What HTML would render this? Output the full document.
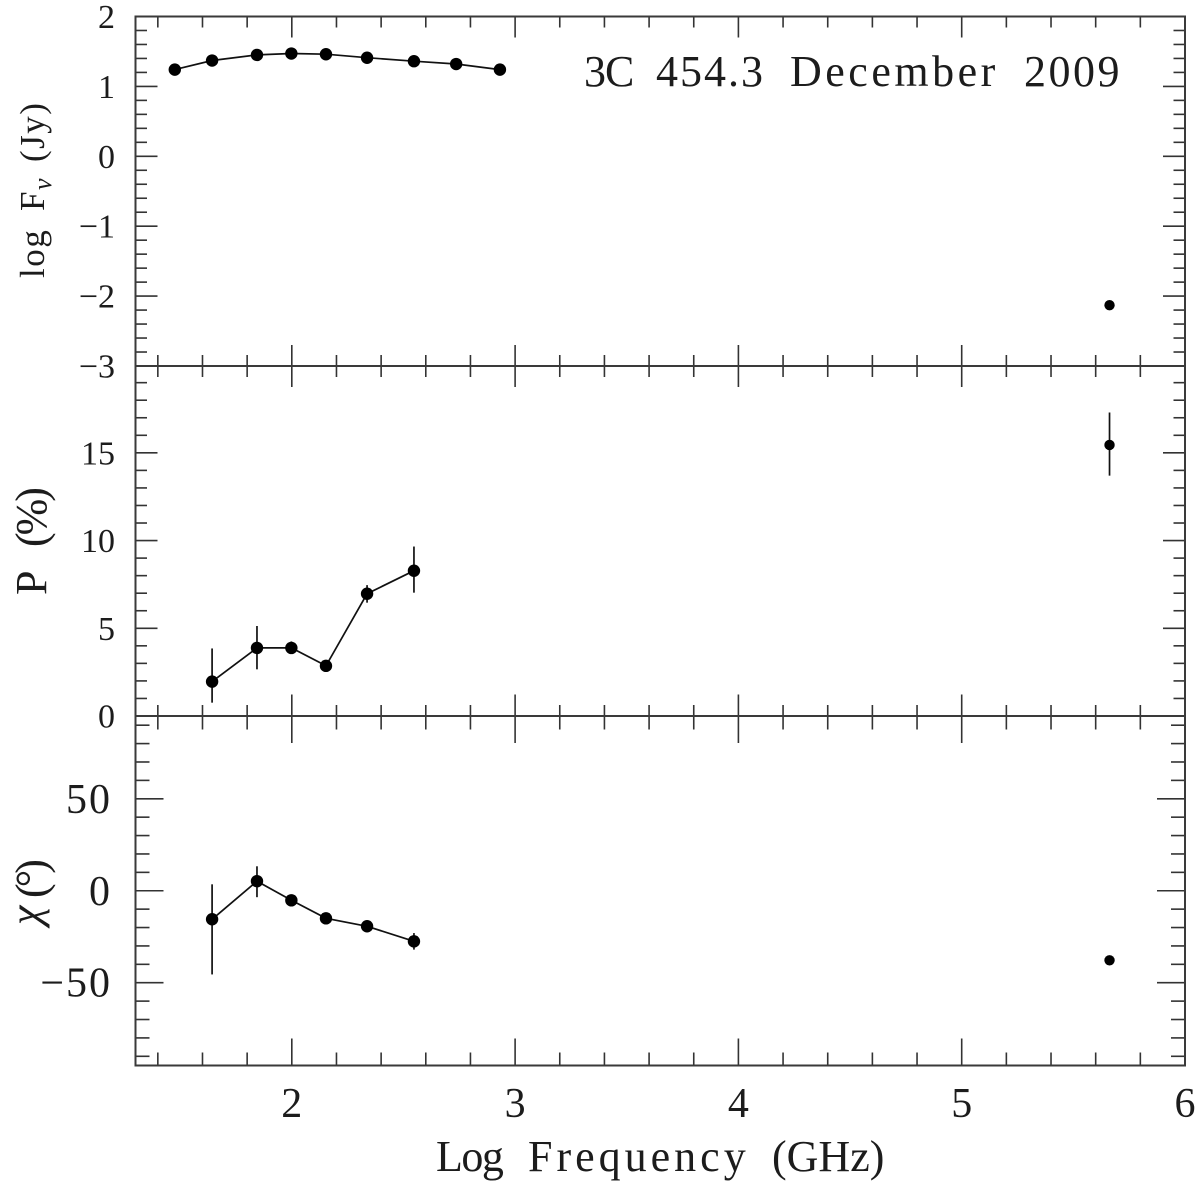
<!DOCTYPE html>
<html lang="en">
<head>
<meta charset="utf-8">
<title>3C 454.3 December 2009</title>
<style>
html,body{margin:0;padding:0;background:#fff;}
svg{display:block;}
text{font-family:"Liberation Serif","DejaVu Serif",serif;fill:#1c1c1c;}
</style>
</head>
<body>
<svg id="chart" xmlns="http://www.w3.org/2000/svg" width="1200" height="1184" viewBox="0 0 1200 1184"></svg>
<script>
// Data
const fluxFreq = [1.476, 1.643, 1.844, 1.998, 2.153, 2.337, 2.547, 2.736, 2.932];
const fluxValues = [1.24, 1.37, 1.45, 1.47, 1.46, 1.41, 1.36, 1.32, 1.24];
const fluxOpticalFreq = [5.662];
const fluxOpticalValues = [-2.13];

const polFreq = [1.643, 1.844, 1.998, 2.153, 2.337, 2.547];
const polValues = [1.96, 3.88, 3.88, 2.86, 6.97, 8.28];
const polUpper = [3.85, 5.13, 4.25, 3.0, 7.46, 9.66];
const polLower = [0.76, 2.66, 3.55, 2.7, 6.46, 7.03];
const polOpticalFreq = [5.662];
const polOpticalValues = [15.45];
const polOpticalUpper = [17.3];
const polOpticalLower = [13.7];

const angleFreq = [1.643, 1.844, 1.998, 2.153, 2.337, 2.547];
const angleValues = [-15.5, 5.2, -5.2, -15, -19.3, -27.5];
const angleUpper = [3.5, 13.3, -3.5, -13.5, -18, -23];
const angleLower = [-45.5, -3.5, -7, -16.5, -20.5, -32];
const angleOpticalFreq = [5.662];
const angleOpticalValues = [-37.8];

const xTickLabels = [2, 3, 4, 5, 6];
const fluxTickLabels = [2, 1, 0, -1, -2, -3];
const polTickLabels = [15, 10, 5, 0];
const angleTickLabels = [50, 0, -50];

const svg = document.getElementById('chart');
const NS = 'http://www.w3.org/2000/svg';

const plotLeft = 135.5, plotRight = 1185;
const panels = {
  flux: {top: 16.5, bottom: 366, max: 2, min: -3},
  pol: {top: 366, bottom: 716, max: 19.95, min: 0},
  angle: {top: 716, bottom: 1065.5, max: 95, min: -95}
};
const xMin = 1.30, xMax = 6;

function xScale(v) {
  return plotLeft + (v - xMin) / (xMax - xMin) * (plotRight - plotLeft);
}
function yScale(panel, v) {
  return panel.bottom - (v - panel.min) / (panel.max - panel.min) * (panel.bottom - panel.top);
}
function fmt(v) {
  return v < 0 ? '\u2212' + Math.abs(v) : String(v);
}
function make(tag, attrs, parent) {
  const el = document.createElementNS(NS, tag);
  for (const k in attrs) el.setAttribute(k, attrs[k]);
  (parent || svg).appendChild(el);
  return el;
}
function tickLine(x1, y1, x2, y2, width, parent) {
  const el = make('line', {x1: x1, y1: y1, x2: x2, y2: y2, stroke: '#333', 'stroke-width': width}, parent);
  
  
  return el;
}

function drawXTicks(panel, name, upMajor, upMinor, downMajor, downMinor) {
  const g = make('g', {});
  
  
  for (let i = 7; i <= 29; i++) {
    const v = i / 5;
    const x = xScale(v);
    const major = i % 5 === 0;
    tickLine(x, panel.top, x, panel.top + (major ? downMajor : downMinor), 1.6, g);
    tickLine(x, panel.bottom, x, panel.bottom - (major ? upMajor : upMinor), 1.6, g);
  }
}
function drawYTicks(panel, name, step, every, majorLen, minorLen) {
  const g = make('g', {});
  
  
  const start = Math.ceil(panel.min / step - 1e-6);
  const end = Math.floor(panel.max / step + 1e-6);
  for (let i = start; i <= end; i++) {
    const y = yScale(panel, i * step);
    if (Math.abs(y - panel.top) < 1 || Math.abs(y - panel.bottom) < 1) continue;
    const len = i % every === 0 ? majorLen : minorLen;
    tickLine(plotLeft, y, plotLeft + len, y, 1.6, g);
    tickLine(plotRight, y, plotRight - len, y, 1.6, g);
  }
}
function drawYLabels(panel, labels, name, right, size, dy, spacing) {
  for (let i = 0; i < labels.length; i++) {
    const t = make('text', {x: right, y: yScale(panel, labels[i]) + dy, 'text-anchor': 'end', 'font-size': size, 'letter-spacing': spacing});
    
    
    t.textContent = fmt(labels[i]);
  }
}
function drawSeries(panel, name, xs, ys, radius) {
  let d = '';
  for (let i = 0; i < xs.length; i++) {
    d += (i ? 'L' : 'M') + xScale(xs[i]).toFixed(1) + ' ' + yScale(panel, ys[i]).toFixed(1);
  }
  if (xs.length > 1) {
    const p = make('path', {d: d, fill: 'none', stroke: '#111', 'stroke-width': 1.7});
    
    
  }
  for (let i = 0; i < xs.length; i++) {
    const c = make('circle', {cx: xScale(xs[i]), cy: yScale(panel, ys[i]), r: radius, fill: '#000'});
    
    
  }
}
function drawErrors(panel, name, xs, hi, lo) {
  for (let i = 0; i < xs.length; i++) {
    const x = xScale(xs[i]);
    const e = make('line', {x1: x, x2: x, y1: yScale(panel, hi[i]), y2: yScale(panel, lo[i]), stroke: '#111', 'stroke-width': 1.7});
    
    
  }
}

// Ticks
drawXTicks(panels.flux, 'flux', 21, 11, 21, 11);
drawXTicks(panels.pol, 'polarization', 21.5, 11, 21, 11);
drawXTicks(panels.angle, 'angle', 27, 13, 27, 13.5);
drawYTicks(panels.flux, 'flux', 0.2, 5, 22, 11.5);
drawYTicks(panels.pol, 'polarization', 1, 5, 22, 11.5);
drawYTicks(panels.angle, 'angle', 10, 5, 28, 14);

// Frame and panel dividers
const frame = make('rect', {x: plotLeft, y: panels.flux.top, width: plotRight - plotLeft, height: panels.angle.bottom - panels.flux.top, fill: 'none', stroke: '#3a3a3a', 'stroke-width': 2});


const divider1 = make('line', {x1: plotLeft, x2: plotRight, y1: panels.flux.bottom, y2: panels.flux.bottom, stroke: '#3a3a3a', 'stroke-width': 2});


const divider2 = make('line', {x1: plotLeft, x2: plotRight, y1: panels.pol.bottom, y2: panels.pol.bottom, stroke: '#3a3a3a', 'stroke-width': 2});



// Tick labels
drawYLabels(panels.flux, fluxTickLabels, 'flux', 115, 34, 11.5, 0);
drawYLabels(panels.pol, polTickLabels, 'polarization', 115, 34, 11.5, 0);
drawYLabels(panels.angle, angleTickLabels, 'angle', 112, 42, 14, 2);
for (let i = 0; i < xTickLabels.length; i++) {
  const t = make('text', {x: xScale(xTickLabels[i]), y: 1117, 'text-anchor': 'middle', 'font-size': 42});
  
  
  t.textContent = fmt(xTickLabels[i]);
}

// Series
drawErrors(panels.pol, 'polarization', polFreq, polUpper, polLower);
drawErrors(panels.pol, 'polarization-optical', polOpticalFreq, polOpticalUpper, polOpticalLower);
drawErrors(panels.angle, 'angle', angleFreq, angleUpper, angleLower);
drawSeries(panels.flux, 'flux', fluxFreq, fluxValues, 6.2);
drawSeries(panels.flux, 'flux-optical', fluxOpticalFreq, fluxOpticalValues, 5.2);
drawSeries(panels.pol, 'polarization', polFreq, polValues, 6.2);
drawSeries(panels.pol, 'polarization-optical', polOpticalFreq, polOpticalValues, 5.2);
drawSeries(panels.angle, 'angle', angleFreq, angleValues, 6.2);
drawSeries(panels.angle, 'angle-optical', angleOpticalFreq, angleOpticalValues, 5.2);

// Multi-part text helper: each piece is a separately placed tspan
function addSpan(parent, text, attrs) {
  const s = make('tspan', attrs, parent);
  s.textContent = text;
  return s;
}

// Title and axis titles
const title = make('text', {y: 86, 'font-size': 44});


addSpan(title, '3C', {x: 584, 'letter-spacing': -1});
addSpan(title, ' ', {});
addSpan(title, '454.3', {x: 656, 'letter-spacing': 2});
addSpan(title, ' ', {});
addSpan(title, 'December', {x: 790, 'letter-spacing': 3.5});
addSpan(title, ' ', {});
addSpan(title, '2009', {x: 1024, 'letter-spacing': 2.5});

const xTitle = make('text', {y: 1171, 'font-size': 44});


addSpan(xTitle, 'Log', {x: 436, 'letter-spacing': -1.5});
addSpan(xTitle, ' ', {});
addSpan(xTitle, 'Frequency', {x: 528, 'letter-spacing': 4});
addSpan(xTitle, ' ', {});
addSpan(xTitle, '(GHz)', {x: 772, 'letter-spacing': 0});

const fluxTitle = make('text', {transform: 'translate(44,278) rotate(-90)', 'font-size': 35, 'letter-spacing': 1.5});


addSpan(fluxTitle, 'log', {x: 0});
addSpan(fluxTitle, ' ', {});
addSpan(fluxTitle, 'F', {x: 67});
addSpan(fluxTitle, '\u03BD', {x: 88, dy: 7, 'font-size': 26, 'font-style': 'italic'});
addSpan(fluxTitle, ' ', {});
addSpan(fluxTitle, '(Jy)', {x: 116, dy: -7});

const polTitle = make('text', {transform: 'translate(46,597) rotate(-90)', 'font-size': 44});


addSpan(polTitle, 'P', {x: 2});
addSpan(polTitle, ' ', {});
addSpan(polTitle, '(%)', {x: 50, 'letter-spacing': -3});

const angleTitle = make('text', {transform: 'translate(40,925) rotate(-90)', 'font-size': 44});


addSpan(angleTitle, '\u03C7', {x: 0, 'font-style': 'italic'});
addSpan(angleTitle, '(\u00B0)', {x: 27, dy: 6, 'letter-spacing': -4});
</script>
</body>
</html>
